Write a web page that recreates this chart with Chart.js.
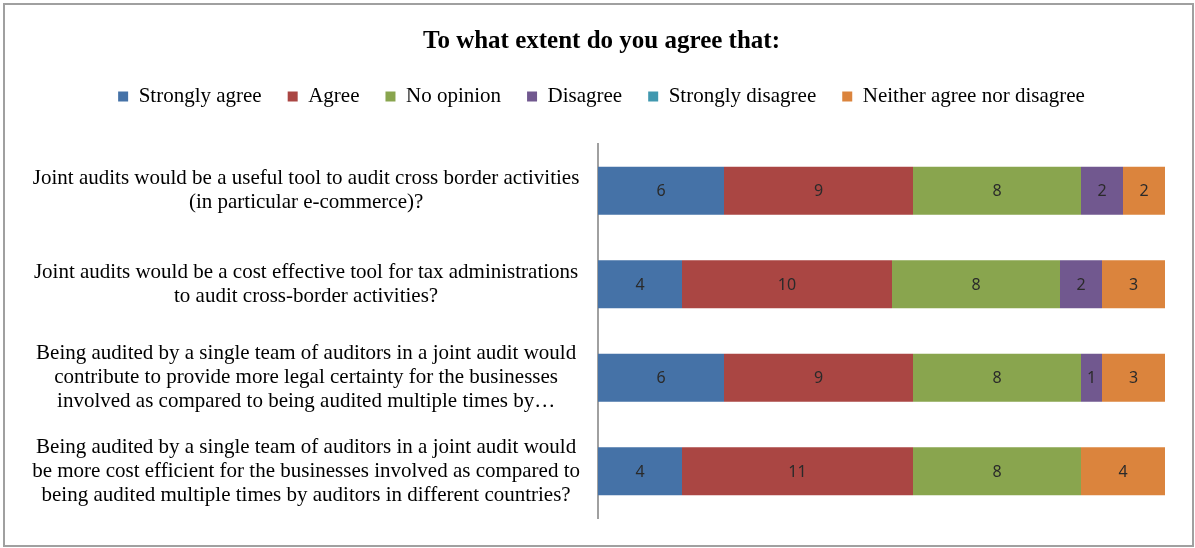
<!DOCTYPE html>
<html>
<head>
<meta charset="utf-8">
<script src="https://cdn.jsdelivr.net/npm/chart.js@4.4.1/dist/chart.umd.min.js"></script>
<style>
    html, body { margin: 0; padding: 0; background: #fff; }
    #wrap { position: relative; width: 1195px; height: 548px; }
    #frame {
        position: absolute; left: 3px; top: 3px; width: 1187px; height: 540px;
        border: 2px solid #a0a0a0; pointer-events: none;
    }
</style>
</head>
<body>
<div id="wrap">
    <canvas id="survey-chart"></canvas>
    <div id="frame"></div>
</div>
<script>
// ---- Data ---------------------------------------------------------------

const QUESTIONS = [
    ['Joint audits would be a useful tool to audit cross border activities', '(in particular e-commerce)?'],
    ['Joint audits would be a cost effective tool for tax administrations', 'to audit cross-border activities?'],
    ['Being audited by a single team of auditors in a joint audit would', 'contribute to provide more legal certainty for the businesses', 'involved as compared to being audited multiple times by\u2026'],
    ['Being audited by a single team of auditors in a joint audit would', 'be more cost efficient for the businesses involved as compared to', 'being audited multiple times by auditors in different countries?'],
];

const STRONGLY_AGREE = [6, 4, 6, 4];
const AGREE = [9, 10, 9, 11];
const NO_OPINION = [8, 8, 8, 8];
const DISAGREE = [2, 2, 1, 0];
const STRONGLY_DISAGREE = [0, 0, 0, 0];
const NEITHER = [2, 3, 3, 4];

const SERIES = [
    { label: 'Strongly agree', data: STRONGLY_AGREE, color: '#4572a7' },
    { label: 'Agree', data: AGREE, color: '#aa4643' },
    { label: 'No opinion', data: NO_OPINION, color: '#89a54e' },
    { label: 'Disagree', data: DISAGREE, color: '#71588f' },
    { label: 'Strongly disagree', data: STRONGLY_DISAGREE, color: '#4198af' },
    { label: 'Neither agree nor disagree', data: NEITHER, color: '#db843d' },
];

const SERIF = "'Liberation Serif', 'Times New Roman', serif";

// ---- Plugins ------------------------------------------------------------

// Leave a gap under the legend row, and centre title + legend on the
// whole frame rather than on the (right-padded) layout box.
const headerLayout = {
    id: 'headerLayout',
    beforeInit(chart) {
        const fit = chart.legend.fit;
        chart.legend.fit = function () {
            fit.call(this);
            this.height += 27;
        };
    },
    afterLayout(chart) {
        for (const box of [chart.legend, chart.titleBlock]) {
            if (!box) continue;
            box.left += 16;
            box.right += 16;
        }
    },
};

// Value labels inside each bar segment (zeros are skipped).
const barValues = {
    id: 'barValues',
    afterDatasetsDraw(chart) {
        const ctx = chart.ctx;
        ctx.save();
        ctx.font = "16px 'Noto Sans', sans-serif";
        ctx.fillStyle = '#2a2a2a';
        ctx.textAlign = 'center';
        ctx.textBaseline = 'middle';
        chart.data.datasets.forEach((ds, i) => {
            const meta = chart.getDatasetMeta(i);
            if (meta.hidden) return;
            meta.data.forEach((bar, j) => {
                const v = ds.data[j];
                if (!v) return;
                const { x, base, y } = bar.getProps(['x', 'base', 'y'], true);
                ctx.fillText(String(v), (x + base) / 2, y + 1);
            });
        });
        ctx.restore();
    },
};

// ---- Chart --------------------------------------------------------------

new Chart(document.getElementById('survey-chart'), {
    type: 'bar',
    data: {
        labels: QUESTIONS,
        datasets: SERIES.map(s => ({
            label: s.label,
            data: s.data,
            backgroundColor: s.color,
            borderWidth: 0,
            barPercentage: 0.512,
            categoryPercentage: 1,
        })),
    },
    options: {
        indexAxis: 'y',
        responsive: true,
        maintainAspectRatio: false,
        animation: false,
        layout: { padding: { left: 6, right: 30, top: 4, bottom: 30 } },
        plugins: {
            title: {
                display: true,
                text: 'To what extent do you agree that:',
                color: '#000',
                font: { family: SERIF, size: 25, weight: 'bold' },
                padding: { top: 23, bottom: 3 },
            },
            legend: {
                position: 'top',
                labels: {
                    color: '#000',
                    font: { family: SERIF, size: 21 },
                    boxWidth: 10,
                    boxHeight: 10,
                    padding: 26,
                },
            },
            tooltip: { enabled: false },
        },
        scales: {
            x: {
                stacked: true,
                display: false,
                min: 0,
                max: 27,
            },
            y: {
                stacked: true,
                grid: { display: false, drawTicks: false },
                border: { display: true, color: '#a0a0a0', width: 2 },
                ticks: {
                    color: '#000',
                    font: { family: SERIF, size: 21, lineHeight: 1.14 },
                    crossAlign: 'center',
                    padding: 18,
                    autoSkip: false,
                },
                afterFit(scale) {
                    scale.width = 592;
                    // labels sit in the middle of each band, no extra room needed
                    scale.paddingTop = 0;
                    scale.paddingBottom = 0;
                },
            },
        },
    },
    plugins: [headerLayout, barValues],
});
</script>
</body>
</html>
